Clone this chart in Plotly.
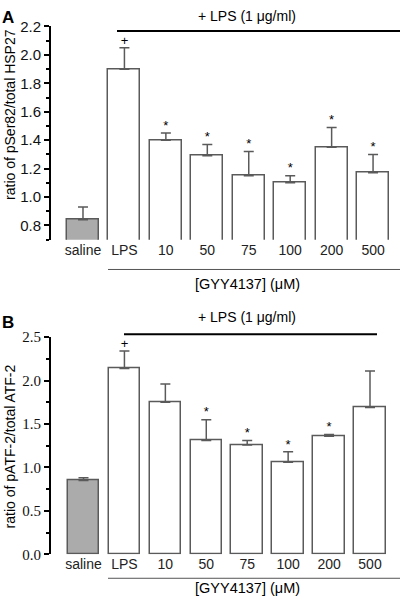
import plotly.graph_objects as go

W, H = 400, 606

categories = ["saline", "LPS", "10", "50", "75", "100", "200", "500"]

# Panel A: pSer82/total HSP27
a_values = [0.84, 1.90, 1.40, 1.29, 1.15, 1.10, 1.35, 1.17]
a_upper = [0.93, 2.05, 1.45, 1.37, 1.32, 1.15, 1.49, 1.30]
a_marks = ["", "+", "*", "*", "*", "*", "*", "*"]

# Panel B: pATF-2/total ATF-2
b_values = [0.85, 2.14, 1.75, 1.31, 1.26, 1.06, 1.36, 1.69]
b_upper = [0.88, 2.34, 1.96, 1.55, 1.31, 1.18, 1.38, 2.11]
b_marks = ["", "+", "", "*", "*", "*", "*", ""]

a_ticks = [0.8, 1.0, 1.2, 1.4, 1.6, 1.8, 2.0, 2.2]
b_ticks = [0.0, 0.5, 1.0, 1.5, 2.0, 2.5]

xpos = list(range(len(categories)))
fills = ["#ababab"] + ["#ffffff"] * (len(categories) - 1)

fig = go.Figure()

def add_panel(values, upper, marks, xa, ya):
    fig.add_trace(go.Bar(
        x=xpos, y=values, width=0.77,
        marker=dict(color=fills, line=dict(color="#5a5a5a", width=1.5)),
        error_y=dict(type="data", symmetric=False,
                     array=[u - v for u, v in zip(upper, values)],
                     arrayminus=[0] * len(values),
                     color="#5a5a5a", thickness=1.5, width=5),
        xaxis=xa, yaxis=ya, showlegend=False,
    ))
    fig.add_trace(go.Scatter(
        x=xpos, y=upper, mode="text", text=marks,
        textposition="top center",
        textfont=dict(family="Arial", size=13, color="#000"),
        xaxis=xa, yaxis=ya, showlegend=False, cliponaxis=False,
    ))

add_panel(a_values, a_upper, a_marks, "x", "y")
add_panel(b_values, b_upper, b_marks, "x2", "y2")

xcommon = dict(tickmode="array", tickvals=xpos, ticktext=categories,
               showline=False, ticks="", showgrid=False, zeroline=False,
               tickfont=dict(family="Arial", size=14, color="#222"))

fig.update_layout(
    width=W, height=H, margin=dict(l=0, r=0, t=0, b=0),
    plot_bgcolor="white", paper_bgcolor="white", bargap=0,
    xaxis=dict(domain=[51 / W, 1], range=[-0.772, 7.65], anchor="y", **xcommon),
    yaxis=dict(domain=[1 - 237.3 / H, 1 - 18 / H], range=[0.7, 2.2],
               tickmode="array", tickvals=a_ticks, tickformat=".1f",
               showline=True, linecolor="black", linewidth=2,
               ticks="outside", ticklen=5, tickwidth=1.5, tickcolor="black",
               minor=dict(dtick=0.1, tick0=0.7, ticks="outside", ticklen=3, tickcolor="black"),
               showgrid=False, zeroline=False, anchor="x",
               tickfont=dict(family="Arial", size=15, color="#111")),
    xaxis2=dict(domain=[51 / W, 1], range=[-0.794, 7.733], anchor="y2", **xcommon),
    yaxis2=dict(domain=[1 - 561 / H, 1 - 337.7 / H], range=[0, 2.5],
                tickmode="array", tickvals=b_ticks, tickformat=".1f",
                showline=True, linecolor="black", linewidth=2,
                ticks="outside", ticklen=5, tickwidth=1.5, tickcolor="black",
                minor=dict(dtick=0.25, tick0=0, ticks="outside", ticklen=3, tickcolor="black"),
                showgrid=False, zeroline=False, anchor="x2",
                tickfont=dict(family="Liberation Serif", size=15, color="#111")),
)

def px(x):
    return x / W

def py(y):
    return 1 - y / H

shapes = [
    dict(type="line", xref="paper", yref="paper", x0=px(117), x1=px(400), y0=py(22.7), y1=py(22.7),
         line=dict(color="black", width=2)),
    dict(type="line", xref="paper", yref="paper", x0=px(108), x1=px(400), y0=py(268), y1=py(268),
         line=dict(color="#555", width=1)),
    dict(type="line", xref="paper", yref="paper", x0=px(124), x1=px(377), y0=py(334.7), y1=py(334.7),
         line=dict(color="black", width=2)),
    dict(type="line", xref="paper", yref="paper", x0=px(108), x1=px(400), y0=py(585.7), y1=py(585.7),
         line=dict(color="#555", width=1)),
]

def txt(x, y, s, size=13, family="Arial", bold=False, angle=0):
    return dict(xref="paper", yref="paper", x=px(x), y=py(y), text=f"<b>{s}</b>" if bold else s,
                showarrow=False, xanchor="center", yanchor="middle", textangle=angle,
                font=dict(family=family, size=size, color="#000"))

annotations = [
    txt(247, 7, "+ LPS (1 μg/ml)", 14),
    txt(247, 283, "[GYY4137] (μM)", 14.5),
    txt(247, 317, "+ LPS (1 μg/ml)", 14),
    txt(247, 596, "[GYY4137] (μM)", 14.5),
    txt(10, 109, "ratio of pSer82/total HSP27", 14, angle=-90),
    txt(10, 450, "ratio of pATF-2/total ATF-2", 14, angle=-90),
    txt(8, 9, "A", 17, bold=True),
    txt(8, 323, "B", 17, bold=True),
]

fig.update_layout(shapes=shapes, annotations=annotations)

fig.write_html("out.html", config={"displayModeBar": False},
               post_script="document.body.style.margin='0';document.body.style.overflow='hidden';")
